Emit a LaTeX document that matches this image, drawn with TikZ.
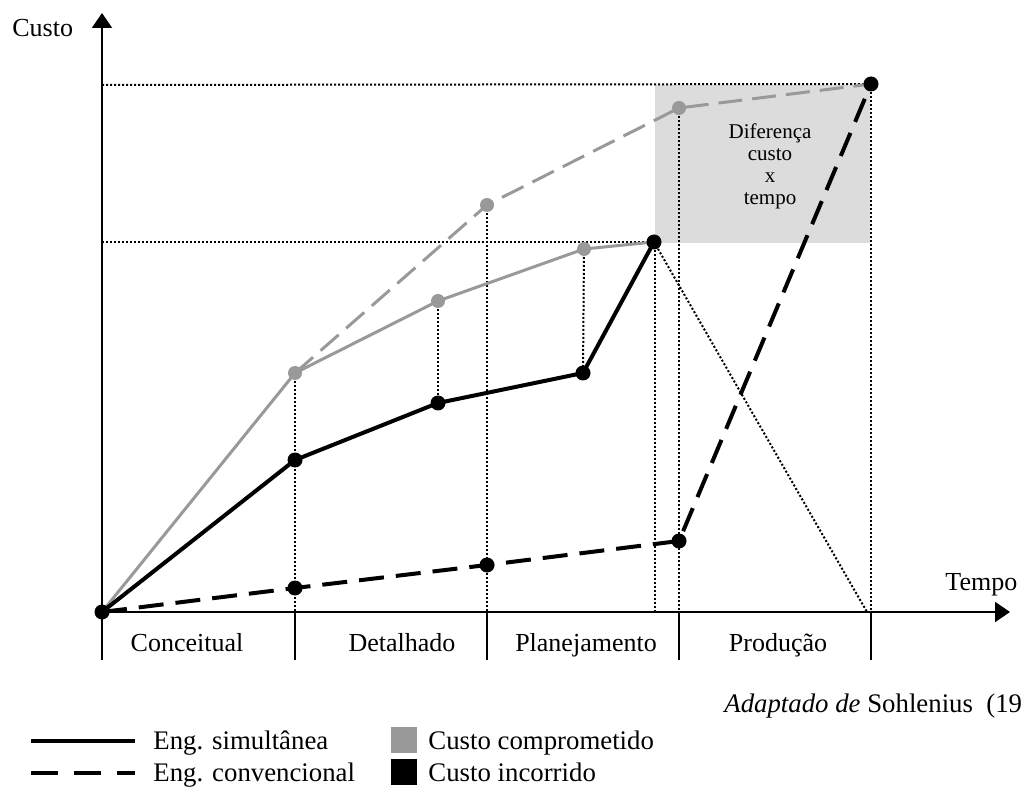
\documentclass[tikz,border=0pt]{standalone}
\usepackage{fontspec}
\setmainfont{Liberation Serif}
\usetikzlibrary{arrows.meta}
\definecolor{cgray}{HTML}{999999}
\definecolor{boxgray}{HTML}{DCDCDC}
\begin{document}
\begin{tikzpicture}[x=0.5pt,y=-0.5pt,
  axis/.style={line width=1pt},
  dotline/.style={line width=1pt, dash pattern=on 1pt off 1pt},
  simline/.style={line width=2pt},
  graysim/.style={line width=1.5pt, draw=cgray},
  convdash/.style={line width=2pt, dash pattern=on 12.5pt off 6pt},
  graydash/.style={line width=1.5pt, draw=cgray, dash pattern=on 12pt off 5pt},
  bdot/.style={circle, fill=black, inner sep=0pt, minimum size=7.5pt},
  gdot/.style={circle, fill=cgray, inner sep=0pt, minimum size=7pt},
  lbl/.style={font=\fontsize{13}{15.6}\selectfont, inner sep=0pt},
  leg/.style={font=\fontsize{13.4}{16}\selectfont, inner sep=0pt},
  arrowtip/.style={-{Triangle[length=7.5pt,width=10pt]}}]
\useasboundingbox (0,0) rectangle (1021,806);

% points
\coordinate (O) at (102,612);
\coordinate (g1) at (295,373);
\coordinate (gs2) at (438,301);
\coordinate (gs3) at (584,249);
\coordinate (S) at (654,242);
\coordinate (gc2) at (487,205);
\coordinate (gc3) at (679,108);
\coordinate (T) at (871,84);
\coordinate (s1) at (295,460);
\coordinate (s2) at (438,403);
\coordinate (s3) at (583,373);
\coordinate (c1) at (295,588);
\coordinate (c2) at (487,565);
\coordinate (c3) at (679,541);
% axis helper coordinates
\coordinate (ybot) at (102,660);
\coordinate (ytop) at (102,13);
\coordinate (xend) at (1010,612);
\coordinate (yT) at (102,85);
\coordinate (yS) at (102,242);
\coordinate (f1) at (295,612);
\coordinate (f2) at (487,612);
\coordinate (Sv) at (655,242);
\coordinate (fS) at (655,612);
\coordinate (f3) at (679,612);
\coordinate (f4) at (871,612);
\coordinate (fd) at (867,612);
\coordinate (t1) at (295,660);
\coordinate (t2) at (487,660);
\coordinate (t3) at (679,660);
\coordinate (t4) at (871,660);

% gray difference box
\fill[boxgray] (655,85) rectangle (870,243);
\node[font=\fontsize{10.5}{11}\selectfont, align=center, inner sep=0pt] (dif) at (770,166) {Diferença\\custo\\x\\tempo};

% dotted guides
\draw[dotline] (yT) -- (T);
\draw[dotline] (yS) -- (S);
\draw[dotline] (g1) -- (f1);
\draw[dotline] (gs2) -- (s2);
\draw[dotline] (gs3) -- (s3);
\draw[dotline] (gc2) -- (f2);
\draw[dotline] (Sv) -- (fS);
\draw[dotline] (gc3) -- (f3);
\draw[dotline] (T) -- (f4);
\draw[dotline] (S) -- (fd);

% axes
\draw[axis, arrowtip] (ybot) -- (ytop);
\draw[axis, arrowtip] (O) -- (xend);
\draw[axis] (f1) -- (t1);
\draw[axis] (f2) -- (t2);
\draw[axis] (f3) -- (t3);
\draw[axis] (f4) -- (t4);

% committed costs (gray)
\draw[graysim] (O) -- (g1) -- (gs2) -- (gs3) -- (S);
\draw[graydash] (g1) -- (gc2) -- (gc3) -- (T);
% incurred costs (black)
\draw[simline] (O) -- (s1) -- (s2) -- (s3) -- (S);
\draw[convdash] (O) -- (c1) -- (c2) -- (c3) -- (T);

% dots
\foreach \p in {g1,gs2,gs3,gc2,gc3} \node[gdot] at (\p) {};
\foreach \p in {O,s1,s2,s3,S,T,c1,c2,c3} \node[bdot] at (\p) {};

% labels
\node[lbl, anchor=base west] (ylab) at (12,37) {Custo};
\node[lbl, anchor=base west] (xlab) at (945,590) {Tempo};
\node[lbl, anchor=base] (p1) at (187,651) {Conceitual};
\node[lbl, anchor=base] (p2) at (402,651) {Detalhado};
\node[lbl, anchor=base] (p3) at (586,651) {Planejamento};
\node[lbl, anchor=base] (p4) at (778,651) {Produção};

\node[leg, anchor=base west] (src) at (724,712) {\textit{Adaptado de} Sohlenius\ \ (19};

% legend
\coordinate (la) at (31,741);
\coordinate (lb) at (135,741);
\coordinate (lc) at (31,773);
\coordinate (ld) at (135,773);
\draw[simline] (la) -- (lb);
\draw[line width=2pt, dash pattern=on 13.5pt off 8pt] (lc) -- (ld);
\node[leg, anchor=base west] (l1) at (153,749) {Eng. simultânea};
\node[leg, anchor=base west] (l2) at (153,781) {Eng. convencional};
\fill[cgray] (391,727) rectangle (417,753);
\fill[black] (391,759) rectangle (417,785);
\node[leg, anchor=base west] (l3) at (428,749) {Custo comprometido};
\node[leg, anchor=base west] (l4) at (428,781) {Custo incorrido};
\end{tikzpicture}
\end{document}
